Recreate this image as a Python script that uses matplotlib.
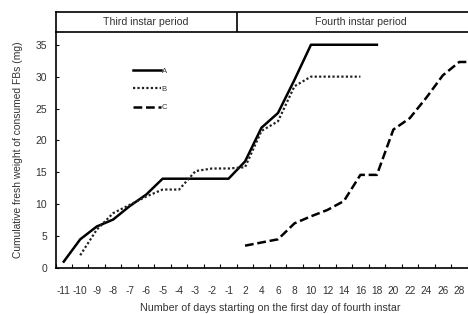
import numpy as np
import matplotlib
matplotlib.use("Agg")
import matplotlib.pyplot as plt

plt.rcParams['font.family'] = ['Liberation Sans', 'DejaVu Sans']

# ── data ─────────────────────────────────────────────
days = ["-11", "-10", "-9", "-8", "-7", "-6", "-5", "-4", "-3", "-2", "-1",
        "2", "4", "6", "8", "10", "12", "14", "16", "18", "20", "22", "24", "26", "28", "30"]
nan = np.nan
series_a = [1.0, 4.5, 6.5, 7.6, 9.7, 11.5, 14.0, 14.0, 14.0, 14.0, 14.0,
            16.7, 22.0, 24.3, 29.5, 35.0, 35.0, 35.0, 35.0, 35.0,
            nan, nan, nan, nan, nan, nan]
series_b = [nan, 2.0, 6.0, 8.6, 9.9, 11.2, 12.3, 12.3, 15.2, 15.6, 15.6,
            15.8, 21.5, 23.0, 28.5, 30.0, 30.0, 30.0, 30.0,
            nan, nan, nan, nan, nan, nan, nan]
series_c = [nan, nan, nan, nan, nan, nan, nan, nan, nan, nan, nan,
            3.5, 4.0, 4.5, 7.0, 8.1, 9.1, 10.5, 14.6, 14.6, 21.7, 23.5, 26.7, 30.2, 32.3, 32.3]
periods = ["Third instar period", "Fourth instar period"]

W, H = 468, 314
fig = plt.figure(figsize=(W / 100, H / 100), dpi=100)
left, right = 55.5, 484.0
ax = fig.add_axes([left / W, (H - 268) / H, (right - left) / W, (268 - 32) / H])

x = np.arange(len(days))
txt = "#333333"
ax.plot(x, series_a, color="black", lw=1.8, ls="-", label="A")
ax.plot(x, series_b, color="#222222", lw=1.6, ls=(0, (1, 1)), label="B")
ax.plot(x, series_c, color="black", lw=1.8, ls=(0, (3.5, 1.5)), label="C")

ax.set_xlim(-0.5, len(days) - 0.5)
ax.set_ylim(0, 37)
ax.set_xticks(x)
ax.set_xticklabels(days)
ax.set_xticks(np.arange(len(days) + 1) - 0.5, minor=True)
ax.tick_params(axis="x", which="major", length=0, pad=13, labelsize=7.3, labelcolor=txt)
ax.tick_params(axis="x", which="minor", direction="in", length=3, width=0.8)
ax.set_yticks(range(0, 36, 5))
ax.tick_params(axis="y", direction="in", length=2, width=0.8, pad=6, labelsize=7.5, labelcolor=txt)
for s in ["top", "right"]:
    ax.spines[s].set_visible(False)
for s in ["left", "bottom"]:
    ax.spines[s].set_linewidth(1.2)

ax.set_xlabel("Number of days starting on the first day of fourth instar", fontsize=7.7, color=txt, labelpad=5)
ax.set_ylabel("Cumulative fresh weight of consumed FBs (mg)", fontsize=7.4, color=txt, labelpad=9)

leg = ax.legend(loc="upper left", bbox_to_anchor=(0.165, 0.88), frameon=False, fontsize=5.5,
                handlelength=3.6, handletextpad=0.15, labelspacing=1.45, labelcolor=txt)

# band with period names
band = fig.add_axes([left / W, (H - 32) / H, (right - left) / W, 20 / H])
band.set_xlim(-0.5, len(days) - 0.5)
band.set_ylim(0, 1)
band.set_xticks([])
band.set_yticks([])
for s in band.spines.values():
    s.set_linewidth(1.2)
band.axvline(10.5, color="black", lw=1.2)
band.text((-0.5 + 10.5) / 2, 0.5, periods[0], ha="center", va="center", fontsize=7.6, color=txt)
band.text((10.5 + len(days) - 0.5) / 2, 0.5, periods[1], ha="center", va="center", fontsize=7.6, color=txt)

fig.savefig("out.png", dpi=100)
